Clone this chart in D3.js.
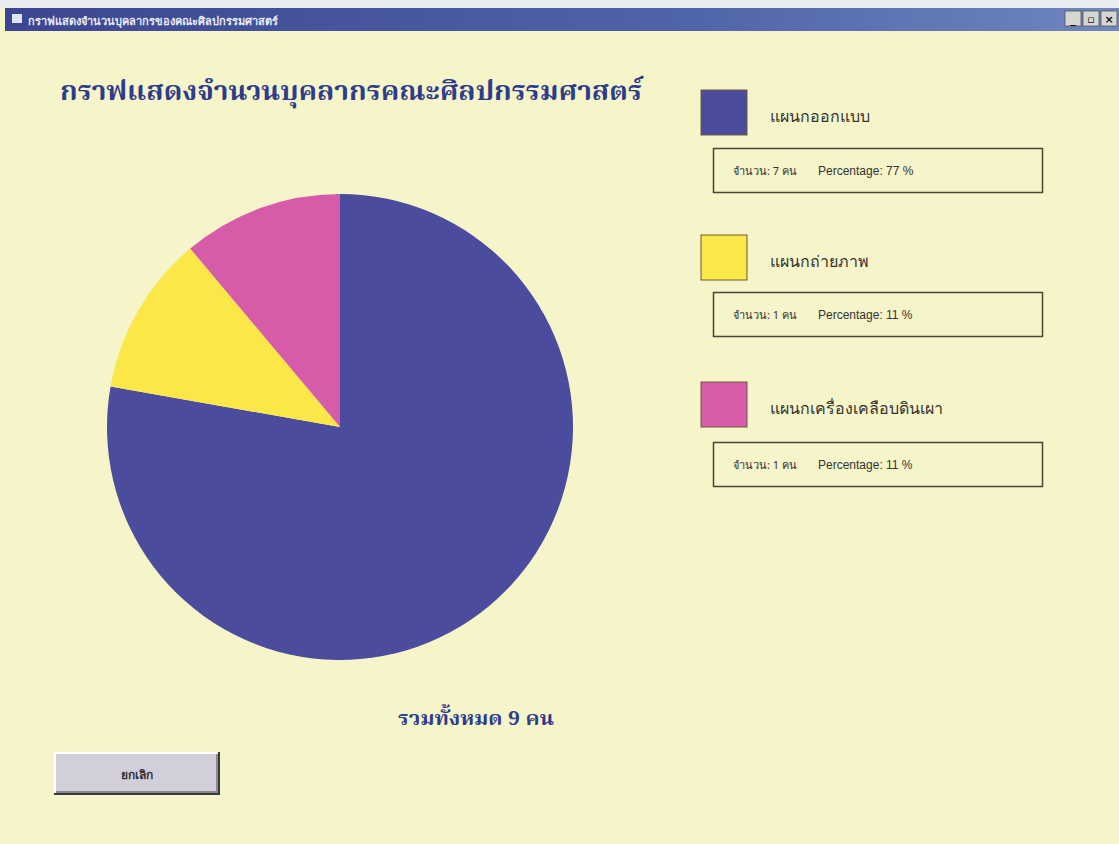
<!DOCTYPE html>
<html><head><meta charset="utf-8">
<script src="https://cdn.jsdelivr.net/npm/d3@7"></script>
<style>
html,body{margin:0;padding:0;background:#fff;}
svg{display:block;}
</style></head>
<body>
<svg id="c" width="1119" height="844"></svg>
<script>
const windowTitle = "กราฟแสดงจำนวนบุคลากรของคณะศิลปกรรมศาสตร์";
const chartTitle = "กราฟแสดงจำนวนบุคลากรคณะศิลปกรรมศาสตร์";
const categories = ["แผนกออกแบบ", "แผนกถ่ายภาพ", "แผนกเครื่องเคลือบดินเผา"];
const counts = [7, 1, 1];
const percentages = [77, 11, 11];
const colors = ["#4b4c9d", "#fbe848", "#d65ba9"];
const totalLabel = "รวมทั้งหมด 9 คน";
const buttonLabel = "ยกเลิก";

const svg = d3.select("#c");
// window background
svg.append("rect").attr("x",0).attr("y",0).attr("width",1119).attr("height",844).attr("fill","#f6f4c9");
// title bar
const grad = svg.append("defs").append("linearGradient").attr("id","tb").attr("x1",0).attr("x2",1);
grad.append("stop").attr("offset","0%").attr("stop-color","#3c4690");
grad.append("stop").attr("offset","60%").attr("stop-color","#4f63a8");
grad.append("stop").attr("offset","100%").attr("stop-color","#6f86c0");
svg.append("rect").attr("x",0).attr("y",0).attr("width",1119).attr("height",8).attr("fill","#e8ecee");
svg.append("rect").attr("x",5).attr("y",8).attr("width",1114).attr("height",23).attr("fill","url(#tb)");
svg.append("rect").attr("x",12).attr("y",14).attr("width",10).attr("height",9).attr("fill","#dfe4ef");
svg.append("text").attr("x",28).attr("y",25).attr("fill","#e9ecf6").attr("font-family","Tahoma, 'DejaVu Sans', sans-serif").attr("font-size",11).attr("font-weight","bold").text(windowTitle);
// window buttons
["_","▫","×"].forEach((s,i)=>{
  const x = 1065 + i*18;
  svg.append("rect").attr("x",x).attr("y",11).attr("width",16).attr("height",15).attr("fill","#d6d6d2").attr("stroke","#555").attr("stroke-width",0.8);
  svg.append("text").attr("x",x+8).attr("y",23).attr("text-anchor","middle").attr("font-family","'DejaVu Sans', sans-serif").attr("font-size",11).attr("font-weight","bold").attr("fill","#111").text(s);
});

// chart title
svg.append("text").attr("x",60).attr("y",100)
  .attr("font-family","'Noto Serif Thai','Noto Sans', 'DejaVu Serif', serif").attr("font-weight","bold").attr("font-size",26)
  .attr("fill","#2e3c8c").attr("textLength",582).attr("lengthAdjust","spacingAndGlyphs").text(chartTitle);

// pie
const cx = 340, cy = 427, r = 233;
const pie = d3.pie().sort(null).value(d=>d)(counts);
const arc = d3.arc().innerRadius(0).outerRadius(r);
svg.append("g").attr("transform",`translate(${cx},${cy})`)
  .selectAll("path").data(pie).join("path")
  .attr("d",arc).attr("fill",(d,i)=>colors[i]);

// legend
const legY = [90, 235, 382];
const boxY = [148, 292, 442];
categories.forEach((c,i)=>{
  svg.append("rect").attr("x",701).attr("y",legY[i]).attr("width",46).attr("height",45)
    .attr("fill",colors[i]).attr("stroke","#6a5a3a").attr("stroke-width",1);
  svg.append("text").attr("x",770).attr("y",legY[i]+32).attr("font-family","'Noto Sans','DejaVu Sans',sans-serif")
    .attr("font-size",16).attr("fill","#333").text(c);
  svg.append("rect").attr("x",713.5).attr("y",boxY[i]+0.5).attr("width",329).attr("height",44)
    .attr("fill","none").attr("stroke","#4a4536").attr("stroke-width",1.5);
  svg.append("text").attr("x",733).attr("y",boxY[i]+27).attr("font-family","'Noto Sans','DejaVu Sans',sans-serif")
    .attr("font-size",11).attr("fill","#333").text(`จำนวน: ${counts[i]} คน`);
  svg.append("text").attr("x",818).attr("y",boxY[i]+27).attr("font-family","'Liberation Sans',Arial,sans-serif")
    .attr("font-size",12).attr("fill","#333").text(`Percentage: ${percentages[i]} %`);
});

// total
svg.append("text").attr("x",398).attr("y",725).attr("font-family","'Noto Serif Thai','Noto Sans','DejaVu Serif',serif")
  .attr("font-weight","bold").attr("font-size",20).attr("fill","#2e3c8c").attr("textLength",156).attr("lengthAdjust","spacingAndGlyphs").text(totalLabel);

// button
svg.append("rect").attr("x",54).attr("y",752).attr("width",166).attr("height",43).attr("fill","#3a3a3a");
svg.append("rect").attr("x",54).attr("y",752).attr("width",164).attr("height",41).attr("fill","#ffffff");
svg.append("rect").attr("x",56).attr("y",754).attr("width",162).attr("height",39).attr("fill","#8a8890");
svg.append("rect").attr("x",56).attr("y",754).attr("width",160).attr("height",37).attr("fill","#d2cfdb");
svg.append("text").attr("x",137).attr("y",779).attr("text-anchor","middle").attr("font-family","'Noto Sans','DejaVu Sans',sans-serif")
  .attr("font-weight","bold").attr("font-size",12).attr("fill","#333").text(buttonLabel);
</script>
</body></html>
